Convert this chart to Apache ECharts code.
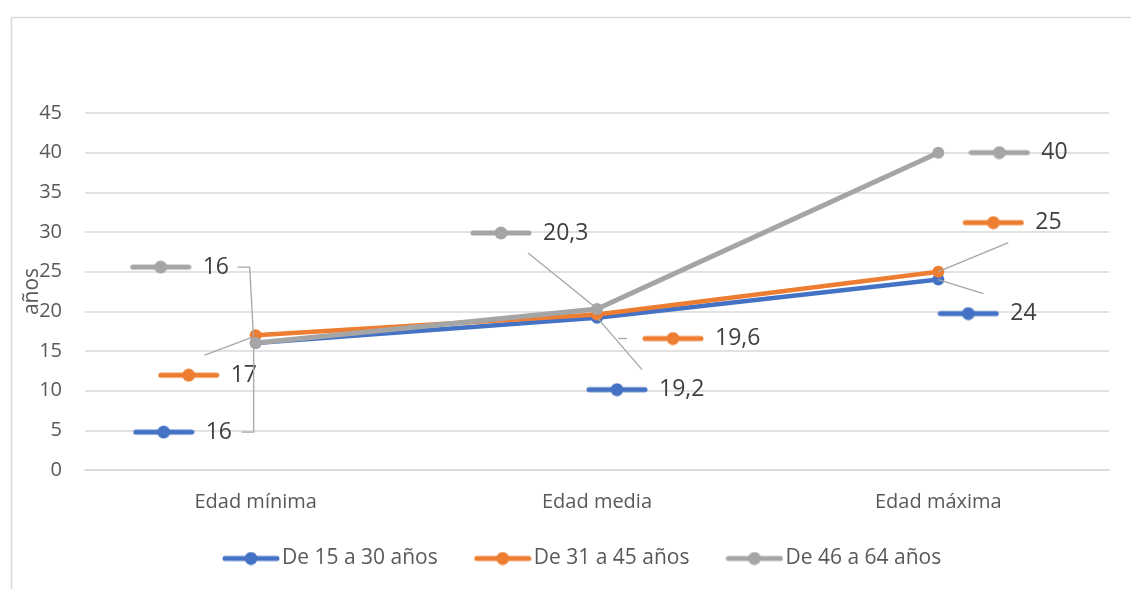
<!DOCTYPE html>
<html>
<head>
<meta charset="utf-8">
<script src="https://cdn.jsdelivr.net/npm/echarts@6/dist/echarts.min.js"></script>
<style>
html,body{margin:0;padding:0;background:#fff;}
#chart{width:1131px;height:589px;}
</style>
</head>
<body>
<div id="chart"></div>
<script>
// ---- data ----
const categories = ['Edad mínima', 'Edad media', 'Edad máxima'];
const seriesNames = ['De 15 a 30 años', 'De 31 a 45 años', 'De 46 a 64 años'];
const values15to30 = [16, 19.2, 24];
const values31to45 = [17, 19.6, 25];
const values46to64 = [16, 20.3, 40];
const yAxisMin = 0, yAxisMax = 45, yAxisStep = 5;
const yAxisName = 'años';

// ---- styles ----
const colors = ['#4472C4', '#ED7D31', '#A5A5A5'];
const FONT = 'Open Sans';
// label placement (pixel offsets from each point): key-left/center, leader-line points
const labelPlacement = [
  [ {k: [-123, 89], l: [[-14, 89], [-2, 89], [-2, 3]]},
    {k: [-11, 72],  l: [[45, 52], [1, 1]]},
    {k: [-1, 34],   l: [[45, 14], [0, 0]]} ],
  [ {k: [-98, 40],  l: [[-51, 20], [-3, 2]]},
    {k: [45, 24],   l: [[30, 24], [21, 24]]},
    {k: [24, -49],  l: [[70, -29], [0, 0]]} ],
  [ {k: [-126, -76], l: [[-18, -76], [-6, -76], [-2, -3]]},
    {k: [-127, -76], l: [[-69, -56], [-2, -2]]},
    {k: [30, 0],     l: null} ]
];

function makeKey(color, w, h, lw, r) {
  const c = document.createElement('canvas');
  c.width = w; c.height = h;
  const g = c.getContext('2d');
  g.strokeStyle = color; g.lineWidth = lw; g.lineCap = 'round';
  g.beginPath(); g.moveTo(lw / 2 + 0.5, h / 2); g.lineTo(w - lw / 2 - 0.5, h / 2); g.stroke();
  g.fillStyle = color;
  g.beginPath(); g.arc(w / 2, h / 2, r, 0, Math.PI * 2); g.fill();
  return c;
}

const seriesValues = [values15to30, values31to45, values46to64];

const chart = echarts.init(document.getElementById('chart'), null, {renderer: 'canvas'});

const lineSeries = seriesValues.map((vals, si) => ({
  name: seriesNames[si],
  type: 'line',
  data: vals,
  color: colors[si],
  symbol: 'circle',
  symbolSize: 12,
  showSymbol: true,
  z: 2 + si,
  lineStyle: {width: si === 2 ? 5 : 4.5, color: colors[si]},
  itemStyle: {color: colors[si]},
  label: {
    show: true,
    formatter: p => '{k|}{v|' + String(p.value).replace('.', ',') + '}',
    rich: {
      k: {width: 62, height: 14, backgroundColor: {image: makeKey(colors[si], 62, 14, 5, 6.5)}},
      v: {fontFamily: FONT, fontSize: 23, color: '#404040', padding: [0, 0, 0, 11], lineHeight: 28}
    }
  },
  labelLine: {show: false},
  labelLayout: function (params) {
    const r = params.rect;
    const cx = r.x + r.width / 2, cy = r.y + r.height / 2;
    const pl = labelPlacement[params.seriesIndex][params.dataIndex];
    return {x: cx + pl.k[0], y: cy + pl.k[1], align: 'left', verticalAlign: 'middle'};
  }
}));

// leader lines, anchored on the data points through the axes
const leaderData = [];
seriesValues.forEach((vals, si) => vals.forEach((v, i) => leaderData.push([i, v, si])));
const leaderSeries = {
  type: 'custom',
  coordinateSystem: 'cartesian2d',
  silent: true,
  z: 10,
  data: leaderData,
  renderItem: function (params, api) {
    const i = api.value(0), si = api.value(2);
    const pl = labelPlacement[si][i].l;
    if (!pl) return null;
    const p = api.coord([i, api.value(1)]);
    return {
      type: 'polyline',
      shape: {points: pl.map(o => [p[0] + o[0], p[1] + o[1]])},
      style: {stroke: '#A6A6A6', lineWidth: 1.3, fill: null}
    };
  }
};

chart.setOption({
  animation: false,
  backgroundColor: '#fff',
  textStyle: {fontFamily: FONT},
  graphic: [{
    type: 'rect', left: 9, top: 15, silent: true,
    shape: {x: 0, y: 0, width: 1300, height: 800},
    style: {fill: 'none', stroke: '#D9D9D9', lineWidth: 1.5}
  }],
  grid: {left: 85, right: 22, top: 113, bottom: 119, containLabel: false},
  legend: {
    data: seriesNames.map((n, si) => ({
      name: n,
      icon: 'image://' + makeKey(colors[si], 58, 14, 5, 6.5).toDataURL()
    })),
    top: 548,
    left: 222,
    padding: 0,
    itemWidth: 58,
    itemHeight: 14,
    itemGap: 36,
    textStyle: {fontFamily: FONT, fontSize: 21, color: '#595959', padding: [0, 0, 0, -3]}
  },
  xAxis: {
    type: 'category',
    data: categories,
    boundaryGap: true,
    axisLine: {show: true, lineStyle: {color: '#D9D9D9', width: 1.5}},
    axisTick: {show: false},
    axisLabel: {fontFamily: FONT, fontSize: 20, color: '#595959', margin: 22}
  },
  yAxis: {
    type: 'value',
    min: yAxisMin, max: yAxisMax, interval: yAxisStep,
    name: yAxisName,
    nameLocation: 'middle',
    nameRotate: 90,
    nameGap: 42,
    nameMoveOverlap: false,
    nameTextStyle: {fontFamily: FONT, fontSize: 21, color: '#595959'},
    axisLine: {show: false},
    axisTick: {show: false},
    axisLabel: {fontFamily: FONT, fontSize: 20, color: '#595959', margin: 23},
    splitLine: {lineStyle: {color: '#D9D9D9', width: 1.5}}
  },
  series: lineSeries.concat([leaderSeries])
});
</script>
</body>
</html>
